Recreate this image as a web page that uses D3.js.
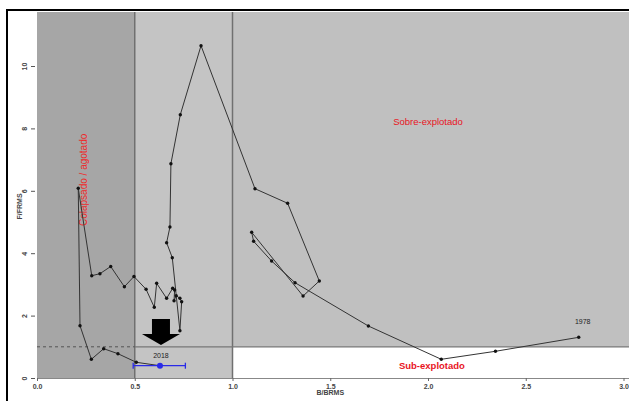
<!DOCTYPE html>
<html><head><meta charset="utf-8">
<script src="https://cdn.jsdelivr.net/npm/d3@7"></script>
<style>html,body{margin:0;padding:0;background:#fff;}svg{display:block;}</style>
</head><body><svg id="c" width="629" height="401"></svg>
<script>
// Trajectory from 1978 to 2018 (B/BRMS, F/FRMS)
const years = d3.range(1978, 2019);
const bRatio = [2.771,2.345,2.068,1.695,1.320,1.200,1.108,1.098,1.361,1.444,1.282,1.115,0.839,0.733,0.685,0.680,0.663,0.692,0.731,0.740,0.731,0.712,0.701,0.704,0.694,0.663,0.612,0.600,0.558,0.496,0.447,0.377,0.322,0.280,0.211,0.220,0.278,0.341,0.414,0.508,0.629];
const fRatio = [1.304,0.856,0.599,1.667,3.054,3.750,4.381,4.670,2.628,3.109,5.600,6.067,10.651,8.439,6.869,4.840,4.337,3.856,1.516,2.446,2.554,2.640,2.478,2.821,2.875,2.554,3.035,2.266,2.843,3.253,2.926,3.574,3.343,3.279,6.080,1.676,0.599,0.939,0.779,0.503,0.394];
const lastCI = [0.492, 0.759];
const xTicks = [0, 0.5, 1, 1.5, 2, 2.5, 3];
const yTicks = [0, 2, 4, 6, 8, 10];
const zoneLabels = ["Sobre-explotado", "Sub-explotado", "Colapsado / agotado"];

const svg = d3.select("#c");
const x = d3.scaleLinear().domain([0, 3]).range([37, 623.5]);
const y = d3.scaleLinear().domain([0, 10]).range([378, 66]);
const xMax = x.invert(629), yMax = y.invert(12);

// outer frame
svg.append("rect").attr("x", 7).attr("y", 10).attr("width", 640).attr("height", 420)
  .attr("fill", "#fff").attr("stroke", "#000").attr("stroke-width", 2);

// zones
svg.append("rect").attr("x", x(1)).attr("y", y(yMax)).attr("width", x(xMax) - x(1)).attr("height", y(1) - y(yMax)).attr("fill", "#c0c0c0");
svg.append("rect").attr("x", x(0.5)).attr("y", y(yMax)).attr("width", x(1) - x(0.5)).attr("height", y(0) - y(yMax)).attr("fill", "#c4c4c4");
svg.append("rect").attr("x", x(0)).attr("y", y(yMax)).attr("width", x(0.5) - x(0)).attr("height", y(0) - y(yMax)).attr("fill", "#a6a6a6");

// reference lines
svg.append("line").attr("x1", x(0.5)).attr("x2", x(0.5)).attr("y1", y(0)).attr("y2", y(yMax)).attr("stroke", "#707070").attr("stroke-width", 1.5);
svg.append("line").attr("x1", x(1)).attr("x2", x(1)).attr("y1", y(0)).attr("y2", y(yMax)).attr("stroke", "#707070").attr("stroke-width", 1.5);
svg.append("line").attr("x1", x(0.5)).attr("x2", x(xMax)).attr("y1", y(1)).attr("y2", y(1)).attr("stroke", "#777").attr("stroke-width", 1.2);
svg.append("line").attr("x1", x(0)).attr("x2", x(0.5)).attr("y1", y(1)).attr("y2", y(1)).attr("stroke", "#555").attr("stroke-width", 1).attr("stroke-dasharray", "3,3");

// axes
const fontAx = "'Liberation Sans', Arial, sans-serif";
const gx = svg.append("g").attr("transform", `translate(0,${y(0)})`)
  .call(d3.axisBottom(x).tickValues(xTicks).tickFormat(d3.format(".1f")).tickSize(3).tickPadding(3));
gx.select(".domain").attr("stroke", "#888").attr("d", `M${x(0)},0.5H${x(xMax)}`);
gx.selectAll(".tick line").attr("stroke", "#666");
gx.selectAll("text").attr("font-family", fontAx).attr("font-size", 7).attr("font-weight", "bold").attr("fill", "#444");

const gy = svg.append("g").attr("transform", `translate(${x(0) - 2},0)`)
  .call(d3.axisLeft(y).tickValues(yTicks).tickFormat(d3.format("d")).tickSize(4).tickPadding(3));
gy.select(".domain").remove();
gy.selectAll(".tick line").attr("stroke", "#555");
gy.selectAll("text").attr("font-family", fontAx).attr("font-size", 7).attr("font-weight", "bold").attr("fill", "#444")
  .attr("text-anchor", "middle").attr("x", 0).attr("dy", 0)
  .attr("transform", "translate(-8,0) rotate(-90)");

svg.append("text").attr("x", x(1.5)).attr("y", 395).attr("text-anchor", "middle")
  .attr("font-family", fontAx).attr("font-size", 7).attr("font-weight", "bold").attr("fill", "#444").text("B/BRMS");
svg.append("text").attr("transform", `translate(22,${y(5.5)}) rotate(-90)`).attr("text-anchor", "middle")
  .attr("font-family", fontAx).attr("font-size", 7).attr("font-weight", "bold").attr("fill", "#444").text("F/FRMS");

// zone labels
svg.append("text").attr("x", x(2.0)).attr("y", y(8.2)).attr("text-anchor", "middle").attr("dominant-baseline", "middle")
  .attr("font-family", fontAx).attr("font-size", 9.5).attr("fill", "#e8141e").text(zoneLabels[0]);
svg.append("text").attr("x", x(2.02)).attr("y", 366).attr("text-anchor", "middle").attr("dominant-baseline", "middle")
  .attr("font-family", fontAx).attr("font-size", 9.5).attr("font-weight", "bold").attr("fill", "#e8141e").text(zoneLabels[1]);
svg.append("text").attr("transform", `translate(${x(0.24)},${y(6.35)}) rotate(-90)`).attr("text-anchor", "middle").attr("dominant-baseline", "middle")
  .attr("font-family", fontAx).attr("font-size", 10).attr("fill", "#ee2a2a").text(zoneLabels[2]);

// trajectory
const pts = bRatio.map((b, i) => ({b, f: fRatio[i], yr: years[i]}));
svg.append("path").datum(pts)
  .attr("d", d3.line().x(d => x(d.b)).y(d => y(d.f)))
  .attr("fill", "none").attr("stroke", "#333").attr("stroke-width", 1);
svg.selectAll("circle.pt").data(pts.slice(0, -1)).enter().append("circle").attr("class", "pt")
  .attr("cx", d => x(d.b)).attr("cy", d => y(d.f)).attr("r", 1.7).attr("fill", "#111");

// last point with CI
const last = pts[pts.length - 1];
const blue = "#2a2ae8";
svg.append("line").attr("x1", x(lastCI[0])).attr("x2", x(lastCI[1])).attr("y1", y(last.f)).attr("y2", y(last.f)).attr("stroke", blue).attr("stroke-width", 1.3);
lastCI.forEach(v => svg.append("line").attr("x1", x(v)).attr("x2", x(v)).attr("y1", y(last.f) - 3).attr("y2", y(last.f) + 3).attr("stroke", blue).attr("stroke-width", 1.3));
svg.append("circle").attr("cx", x(last.b)).attr("cy", y(last.f)).attr("r", 3).attr("fill", blue);

// year labels
svg.append("text").attr("x", x(pts[0].b) + 4).attr("y", y(pts[0].f) - 13).attr("text-anchor", "middle")
  .attr("font-family", fontAx).attr("font-size", 7).attr("fill", "#222").text(pts[0].yr);
svg.append("text").attr("x", x(last.b) + 1).attr("y", y(last.f) - 8).attr("text-anchor", "middle")
  .attr("font-family", fontAx).attr("font-size", 7).attr("fill", "#222").text(last.yr);

// arrow pointing to last year
const ax = x(last.b) + 1;
svg.append("path").attr("d", `M${ax - 9},319 H${ax + 9} V334 H${ax + 19} L${ax},345 L${ax - 19},334 H${ax - 9} Z`).attr("fill", "#000");
</script></body></html>
